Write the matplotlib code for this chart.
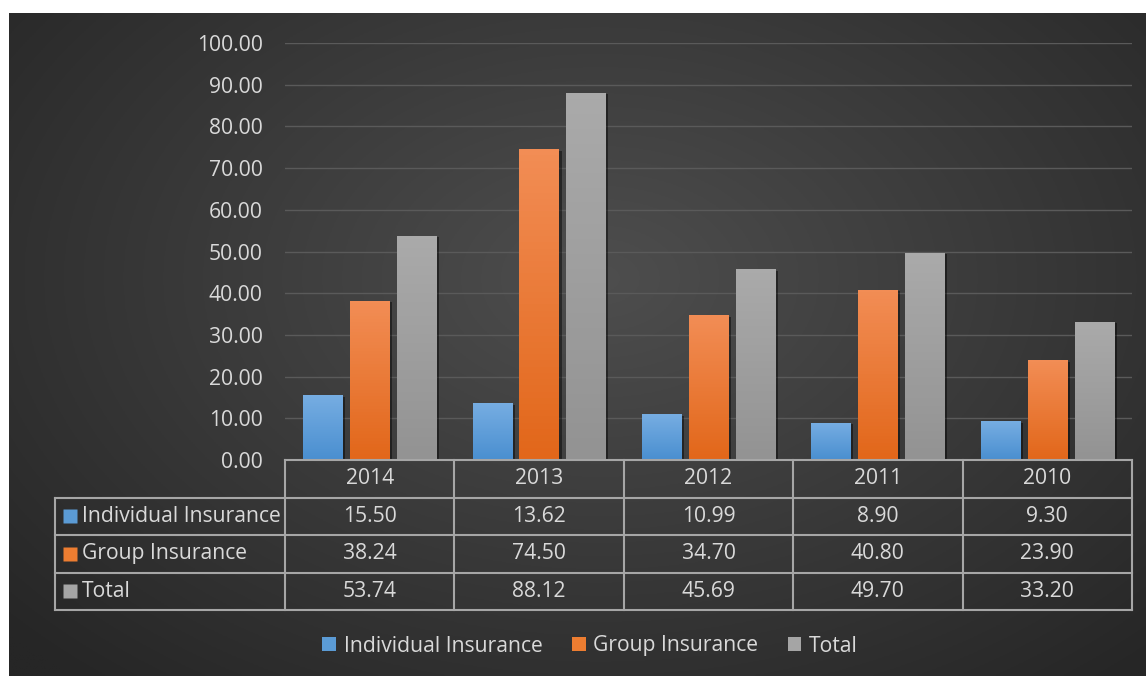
import numpy as np
import matplotlib.pyplot as plt
from matplotlib.colors import LinearSegmentedColormap
from matplotlib.patches import Patch
from matplotlib import patheffects as pe

years = ['2014', '2013', '2012', '2011', '2010']
individual = [15.50, 13.62, 10.99, 8.90, 9.30]
group = [38.24, 74.50, 34.70, 40.80, 23.90]
total = [53.74, 88.12, 45.69, 49.70, 33.20]
series_names = ['Individual Insurance', 'Group Insurance', 'Total']
yticks = np.arange(0, 101, 10)

plt.rcParams['font.family'] = ['Open Sans', 'DejaVu Sans']
txt = '#d9d9d9'
fs = 15.2

W, H = 1146, 676
fig = plt.figure(figsize=(W / 100, H / 100), dpi=100, facecolor='white')

# background: dark radial gradient
bg = fig.add_axes([9 / W, 0, 1 - 9 / W, 1 - 13 / H])
yy, xx = np.mgrid[0:1:300j, 0:1:500j]
d = np.clip(np.sqrt(((xx - 0.52) / 0.7) ** 2 + ((yy - 0.4) / 0.8) ** 2), 0, 1)
c0, c1 = np.array([0x4e, 0x4e, 0x4e]) / 255, np.array([0x26, 0x26, 0x26]) / 255
img = c0[None, None, :] * (1 - d[..., None]) + c1[None, None, :] * d[..., None]
bg.imshow(img, aspect='auto', extent=(0, 1, 0, 1))
bg.axis('off')

ax = fig.add_axes([285 / W, (676 - 460) / H, (1132 - 285) / W, (460 - 43) / H])
ax.set_facecolor('none')
ax.set_yticks(yticks)
ax.set_yticklabels(['%.2f' % v for v in yticks])
ax.tick_params(axis='y', length=0, pad=16, labelsize=fs, labelcolor=txt)
ax.set_xticks([])
for s in ax.spines.values():
    s.set_visible(False)
ax.grid(axis='y', color='#5a5a5a', lw=1)
ax.set_axisbelow(True)

grads = [('#4a8fd0', '#76adE2'), ('#e2671a', '#f28d55'), ('#939393', '#aaaaaa')]
x = np.arange(5) + 0.5
off = 0.277
bw = 0.232
for i, vals in enumerate([individual, group, total]):
    cmap = LinearSegmentedColormap.from_list('g%d' % i, grads[i])
    bars = ax.bar(x + (i - 1) * off, vals, bw, color=grads[i][0], zorder=2,
                  path_effects=[pe.SimplePatchShadow(offset=(2, -1), shadow_rgbFace='black', alpha=0.45),
                                pe.Normal()])
    for b in bars:
        x0, w, h = b.get_x(), b.get_width(), b.get_height()
        im = ax.imshow(np.linspace(1, 0, 50)[:, None], cmap=cmap, aspect='auto',
                       extent=(x0, x0 + w, 0, h), zorder=3)
        im.set_clip_path(b)
ax.set_xlim(0, 5)
ax.set_ylim(0, 100)

# data table under the plot
trans = ax.get_xaxis_transform()
rows_px = [460, 497.5, 535, 572.5, 610]
ry = [(460 - p) / 417 for p in rows_px]
left = (55 - 285) / 169.4
lc = '#a6a6a6'
kw = dict(transform=trans, clip_on=False, color=lc, lw=1.5, zorder=4)
ax.plot([0, 5], [ry[0], ry[0]], **kw)
for yv in ry[1:]:
    ax.plot([left, 5], [yv, yv], **kw)
for xv in range(6):
    ax.plot([xv, xv], [ry[0], ry[-1]], **kw)
ax.plot([left, left], [ry[1], ry[-1]], **kw)

for j, yr in enumerate(years):
    ax.text(j + 0.5, (ry[0] + ry[1]) / 2, yr, transform=trans, ha='center', va='center',
            color=txt, fontsize=fs)
colors = ['#5b9bd5', '#ed7d31', '#a5a5a5']
for i, (name, vals) in enumerate(zip(series_names, [individual, group, total])):
    yc = (ry[i + 1] + ry[i + 2]) / 2
    ax.plot([(70 - 285) / 169.4], [yc], marker='s', ms=10, color=colors[i], mec='none',
            transform=trans, clip_on=False)
    ax.text((82 - 285) / 169.4, yc, name, transform=trans, ha='left', va='center',
            color=txt, fontsize=fs)
    for j, v in enumerate(vals):
        ax.text(j + 0.5, yc, '%.2f' % v, transform=trans, ha='center', va='center',
                color=txt, fontsize=fs)

handles = [Patch(facecolor=c, edgecolor='none') for c in colors]
fig.legend(handles, series_names, loc='center', bbox_to_anchor=(590 / W, 1 - 646 / H),
           ncol=3, frameon=False, fontsize=fs, labelcolor=txt, handlelength=0.65,
           handleheight=0.65, handletextpad=0.35, columnspacing=1.4)

fig.savefig('out.png', dpi=100, facecolor='white')
